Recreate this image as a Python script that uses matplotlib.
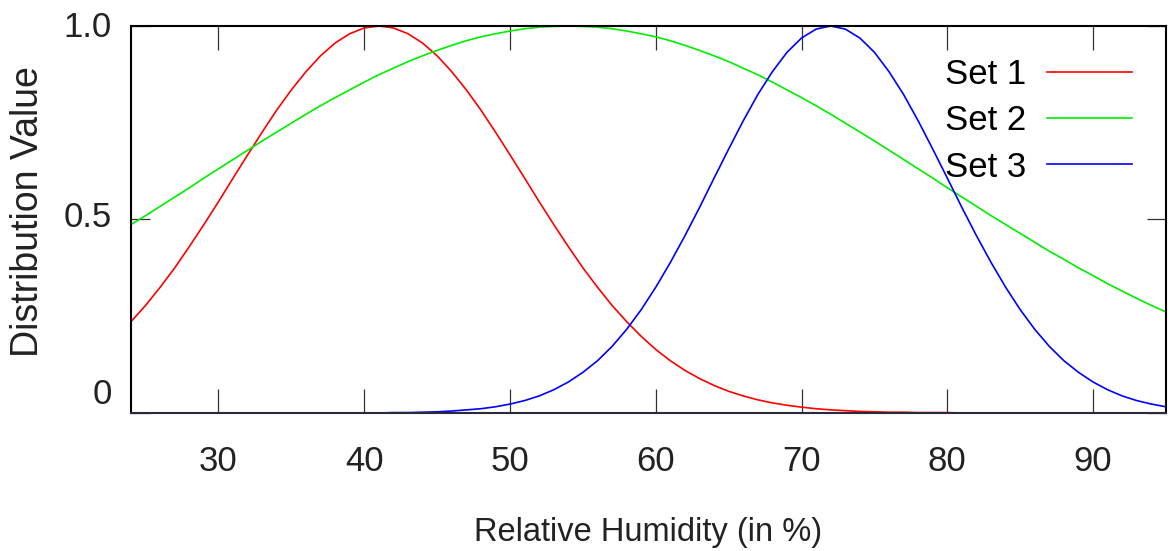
import numpy as np
import matplotlib
matplotlib.use("Agg")
import matplotlib.pyplot as plt
from matplotlib.transforms import offset_copy

# relative humidity samples (%), one per percent
humidity = np.arange(24, 96)

# values
set1 = [0.236, 0.278, 0.325, 0.375, 0.430, 0.487, 0.546, 0.607, 0.667, 0.726,
        0.783, 0.835, 0.882, 0.923, 0.956, 0.980, 0.995, 1.000, 0.995, 0.980,
        0.956, 0.923, 0.882, 0.835, 0.783, 0.726, 0.667, 0.607, 0.546, 0.487,
        0.430, 0.375, 0.325, 0.278, 0.236, 0.198, 0.164, 0.135, 0.110, 0.089,
        0.071, 0.056, 0.044, 0.034, 0.026, 0.020, 0.015, 0.011, 0.008, 0.006,
        0.004, 0.003, 0.002, 0.002, 0.001, 0.001, 0.001, 0.0, 0.0, 0.0,
        0.0, 0.0, 0.0, 0.0, 0.0, 0.0, 0.0, 0.0, 0.0, 0.0,
        0.0, 0.0]
set2 = [0.487, 0.510, 0.534, 0.558, 0.582, 0.607, 0.631, 0.655, 0.679, 0.703,
        0.726, 0.749, 0.772, 0.794, 0.815, 0.835, 0.855, 0.874, 0.891, 0.908,
        0.923, 0.937, 0.950, 0.962, 0.972, 0.980, 0.987, 0.993, 0.997, 0.999,
        1.000, 0.999, 0.997, 0.993, 0.987, 0.980, 0.972, 0.962, 0.950, 0.937,
        0.923, 0.908, 0.891, 0.874, 0.855, 0.835, 0.815, 0.794, 0.772, 0.749,
        0.726, 0.703, 0.679, 0.655, 0.631, 0.607, 0.582, 0.558, 0.534, 0.510,
        0.487, 0.464, 0.441, 0.418, 0.397, 0.375, 0.355, 0.334, 0.315, 0.296,
        0.278, 0.261]
set3 = [0.0, 0.0, 0.0, 0.0, 0.0, 0.0, 0.0, 0.0, 0.0, 0.0,
        0.0, 0.0, 0.0, 0.0, 0.0, 0.0, 0.0, 0.0, 0.001, 0.001,
        0.002, 0.003, 0.005, 0.008, 0.011, 0.016, 0.023, 0.032, 0.044, 0.060,
        0.080, 0.105, 0.135, 0.172, 0.216, 0.267, 0.325, 0.389, 0.458, 0.531,
        0.607, 0.682, 0.755, 0.823, 0.882, 0.932, 0.969, 0.992, 1.000, 0.992,
        0.969, 0.932, 0.882, 0.823, 0.755, 0.682, 0.607, 0.531, 0.458, 0.389,
        0.325, 0.267, 0.216, 0.172, 0.135, 0.105, 0.080, 0.060, 0.044, 0.032,
        0.023, 0.016]

labels = ["Set 1", "Set 2", "Set 3"]
colors = ["#ff0000", "#00ee00", "#0000ff"]
xticks = [30, 40, 50, 60, 70, 80, 90]
yticks = [0, 0.5, 1.0]
ytick_labels = ["0", "0.5", "1.0"]

plt.rcParams["font.family"] = ["Liberation Sans", "DejaVu Sans"]

fig = plt.figure(figsize=(11.71, 5.51), dpi=100)
ax = fig.add_axes([0.1119, 0.2505, 0.8838, 0.7023])

for ys, lab, col in zip([set1, set2, set3], labels, colors):
    ax.plot(humidity, ys, color=col, lw=1.2, label=lab)

ax.set_xlim(24, 95)
ax.set_ylim(0, 1)
ax.set_xticks(xticks)
ax.set_yticks(yticks)
ax.set_yticklabels([])
ax.tick_params(axis="x", direction="in", length=17, width=0.9, top=True,
               pad=23, labelsize=25, colors="#333333", labelcolor="#222222")
ax.tick_params(axis="y", direction="in", length=14, width=0.9, right=True,
               colors="#333333")
for sp in ax.spines.values():
    sp.set_linewidth(1.5)
    sp.set_color("black")
ax.spines["bottom"].set_color("#2a2a3a")

# y tick labels, placed like the reference (baseline offsets in pixels)
base_shift = [9, -7.5, -10.7]
for val, txt, dy in zip(yticks, ytick_labels, base_shift):
    tr = offset_copy(ax.get_yaxis_transform(), fig=fig, x=-19, y=dy, units="dots")
    ax.text(0, val, txt, transform=tr, ha="right", va="baseline",
            fontsize=25, color="#222222")

fig.text(648.5 / 1171, 1 - 541 / 551, "Relative Humidity (in %)", ha="center",
         va="baseline", fontsize=23.5, color="#222222")
fig.text(28 / 1171, 1 - 212 / 551, "Distribution Value", rotation=90,
         ha="center", va="center", fontsize=27, color="#222222")

ax.legend(loc="upper right", bbox_to_anchor=(0.967, 0.917), frameon=False,
          markerfirst=False, handlelength=2.45, handletextpad=0.58,
          labelspacing=0.38, borderpad=0, borderaxespad=0, fontsize=25)

fig.savefig("out.png", dpi=100)
